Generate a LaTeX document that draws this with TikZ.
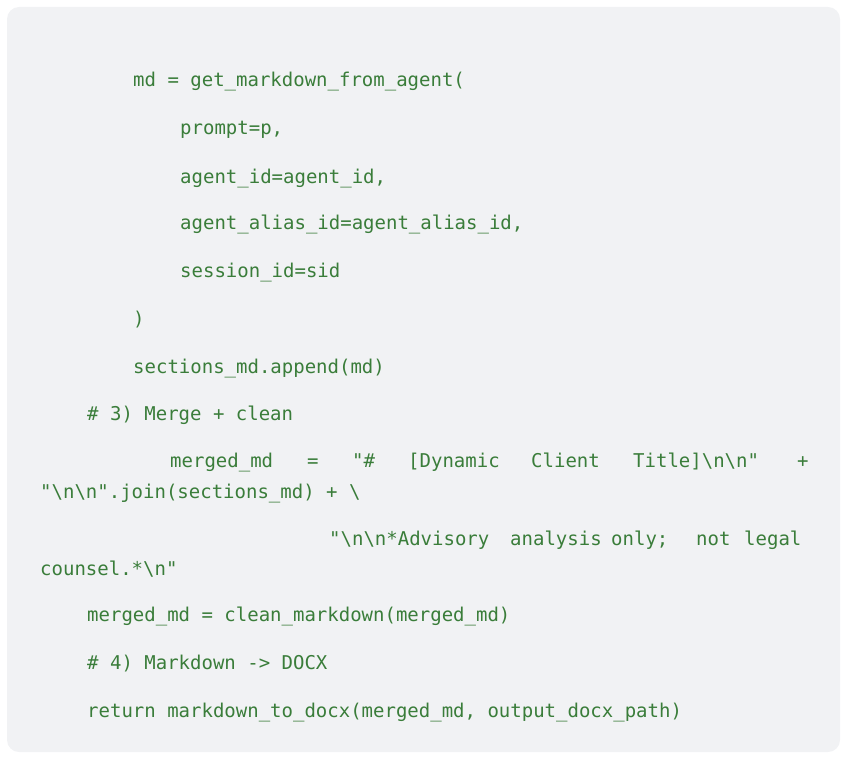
\documentclass[tikz,border=0pt]{standalone}
\usepackage{fontspec}
\setmonofont{DejaVu Sans Mono}
\definecolor{codegreen}{HTML}{3A7D3A}
\definecolor{bgc}{HTML}{F1F2F4}
\begin{document}
\begin{tikzpicture}[x=1pt,y=-1pt,
  c/.style={anchor=base west,inner sep=0pt,font=\fontsize{19}{22}\ttfamily,text=codegreen}]
\useasboundingbox (0,0) rectangle (848,762);
\fill[bgc,rounded corners=12pt] (7,7) rectangle (840,752);
\node[c] (l1) at (133,87) {md = get\_markdown\_from\_agent(};
\node[c] (l2) at (180,135) {prompt=p,};
\node[c] (l3) at (180,183) {agent\_id=agent\_id,};
\node[c] (l4) at (180,229) {agent\_alias\_id=agent\_alias\_id,};
\node[c] (l5) at (180,277) {session\_id=sid};
\node[c] (l6) at (133,325) {)};
\node[c] (l7) at (133,373) {sections\_md.append(md)};
\node[c] (l8) at (87,420) {\# 3) Merge + clean};
\node[c] (w1) at (170,467) {merged\_md};
\node[c] (w2) at (307,467) {=};
\node[c] (w3) at (352,467) {"\#};
\node[c] (w4) at (408,467) {[Dynamic};
\node[c] (w5) at (531,467) {Client};
\node[c] (w6) at (633,467) {Title]\textbackslash n\textbackslash n"};
\node[c] (w7) at (797,467) {+};
\node[c] (l10) at (40,498) {"\textbackslash n\textbackslash n".join(sections\_md) + \textbackslash};
\node[c] (v1) at (329,545) {"\textbackslash n\textbackslash n*Advisory};
\node[c] (v2) at (510,545) {analysis};
\node[c] (v3) at (611,545) {only;};
\node[c] (v4) at (696,545) {not};
\node[c] (v5) at (744,545) {legal};
\node[c] (l12) at (40,575) {counsel.*\textbackslash n"};
\node[c] (l13) at (87,621) {merged\_md = clean\_markdown(merged\_md)};
\node[c] (l14) at (87,669) {\# 4) Markdown -> DOCX};
\node[c] (l15) at (87,717) {return markdown\_to\_docx(merged\_md, output\_docx\_path)};
\end{tikzpicture}
\end{document}
